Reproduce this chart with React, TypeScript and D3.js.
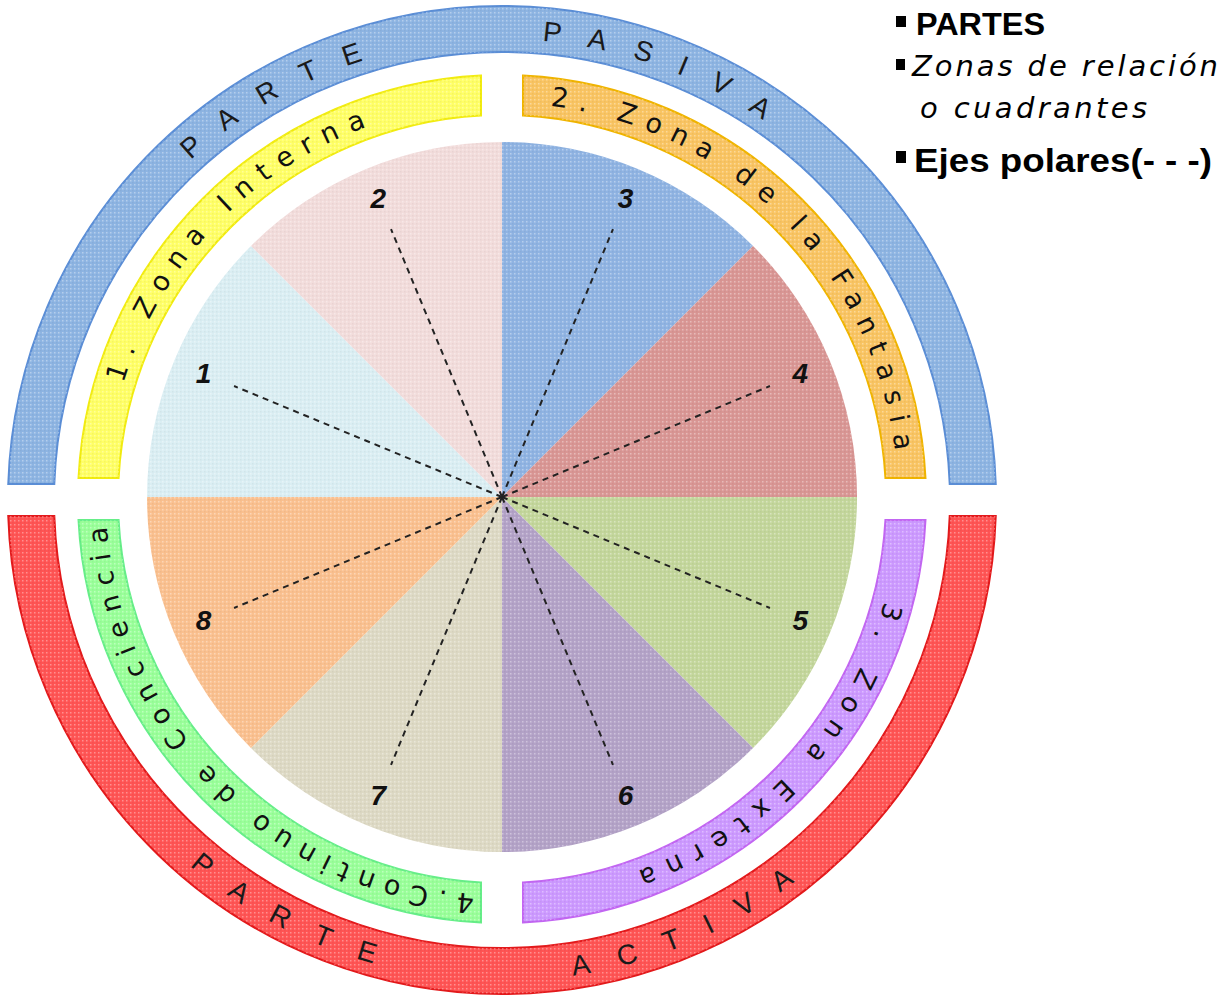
import React from "react";
import * as d3 from "d3";

// ---------- data ----------
const SEGMENT_LABELS = ["3", "4", "5", "6", "7", "8", "1", "2"];
const SEGMENT_VALUES = [1, 1, 1, 1, 1, 1, 1, 1];
const SEGMENT_COLORS = ["#8FB3E2", "#D99694", "#C3D69B", "#B3A2C7", "#DDD9C4", "#FAC08F", "#DAEEF3", "#F2DCDB"];

const ZONE_LABELS = ["1. Zona Interna", "2. Zona de la Fantasia", "3. Zona Externa", "4.Continuo de Conciencia"];
const ZONE_VALUES = [1, 1, 1, 1];
const ZONE_FILLS = ["#FFFF66", "#F9C462", "#CC99FF", "#99FF99"];
const ZONE_STROKES = ["#F2EC10", "#F0B400", "#C266F2", "#66EE88"];

const PART_WORDS = ["PARTE", "PASIVA", "ACTIVA"];
const PART_VALUES = [1, 1];
const PART_FILLS = ["#8DB4E2", "#FF5454"];
const PART_STROKES = ["#5B8ED6", "#E3191B"];

const LEGEND_ITEMS = ["PARTES", "Zonas de relación", "o cuadrantes", "Ejes polares(- - -)"];

// ---------- layout ----------
const W = 1218;
const H = 996;
const deg = Math.PI / 180;

const PIE_C = { x: 502, y: 497 };
const PIE_R = 355;
const INNER_C = { x: 502, y: 499 };
const INNER_R0 = 384;
const INNER_R1 = 424;
const OUTER_C = { x: 502, y: 500 };
const OUTER_R0 = 448;
const OUTER_R1 = 494;

// text spans (degrees, clockwise from top), [start, end]
const ZONE_TEXT_SPANS: [number, number][] = [
  [-73, -20],
  [7, 83],
  [105, 160],
  [184, 266],
];
const PART_TEXT_SPANS: [number, number][] = [
  [-42.5, -17.5], // PARTE (top)
  [5, 34.5], // PASIVA
  [220.5, 195.5], // PARTE (bottom, ccw)
  [171.5, 142.5], // ACTIVA (ccw)
];

function arcD(r: number, a0d: number, a1d: number) {
  const a0 = a0d * deg;
  const a1 = a1d * deg;
  const sweep = a1 > a0 ? 1 : 0;
  const large = Math.abs(a1 - a0) > Math.PI ? 1 : 0;
  const x0 = r * Math.sin(a0), y0 = -r * Math.cos(a0);
  const x1 = r * Math.sin(a1), y1 = -r * Math.cos(a1);
  return `M${x0},${y0} A${r},${r} 0 ${large} ${sweep} ${x1},${y1}`;
}

export default function App() {
  const pie = d3.pie<number>().sort(null).value((d) => d).startAngle(0).endAngle(2 * Math.PI);
  const segArcs = pie(SEGMENT_VALUES);
  const sliceArc = d3.arc<d3.PieArcDatum<number>>().innerRadius(0).outerRadius(PIE_R);

  const zoneArcs = pie.startAngle(-Math.PI / 2).endAngle(1.5 * Math.PI)(ZONE_VALUES);
  const zoneGap = 21;
  const zoneArc = d3
    .arc<d3.PieArcDatum<number>>()
    .innerRadius(INNER_R0)
    .outerRadius(INNER_R1)
    .padRadius(INNER_R0)
    .padAngle(2 * Math.asin(zoneGap / INNER_R0));

  const partArcs = d3.pie<number>().sort(null).value((d) => d).startAngle(-Math.PI / 2).endAngle(1.5 * Math.PI)(PART_VALUES);
  const partGap = 16;
  const partArc = d3
    .arc<d3.PieArcDatum<number>>()
    .innerRadius(OUTER_R0)
    .outerRadius(OUTER_R1)
    .padRadius(OUTER_R0)
    .padAngle(2 * Math.asin(partGap / OUTER_R0));

  const zoneBaseR = 396;
  const partTexts = [PART_WORDS[0], PART_WORDS[1], PART_WORDS[0], PART_WORDS[2]];
  const partBaseR = [461, 461, 481, 481];

  const labelR = 323;
  const axisR = 290;

  const textFont = "'DejaVu Sans', sans-serif";

  return (
    <div style={{ position: "absolute", left: 0, top: 0, width: W, height: H, background: "#fff" }}>
      <svg width={W} height={H} viewBox={`0 0 ${W} ${H}`} style={{ display: "block" }}>
        <defs>
          <pattern id="dots" width="4" height="4" patternUnits="userSpaceOnUse">
            <rect x="0" y="0" width="1.5" height="1.5" fill="#ffffff" opacity="0.35" />
            <rect x="2" y="2" width="1.5" height="1.5" fill="#000000" opacity="0.04" />
          </pattern>
          {ZONE_TEXT_SPANS.map((s, i) => (
            <path key={"zp" + i} id={"zp" + i} d={arcD(zoneBaseR, s[0], s[1])} />
          ))}
          {PART_TEXT_SPANS.map((s, i) => (
            <path key={"pp" + i} id={"pp" + i} d={arcD(partBaseR[i], s[0], s[1])} />
          ))}
        </defs>

        {/* outer ring: PARTE PASIVA / PARTE ACTIVA */}
        <g transform={`translate(${OUTER_C.x},${OUTER_C.y})`}>
          {partArcs.map((a, i) => (
            <g key={"part" + i}>
              <path d={partArc(a) || ""} fill={PART_FILLS[i]} stroke={PART_STROKES[i]} strokeWidth={2} />
              <path d={partArc(a) || ""} fill="url(#dots)" />
            </g>
          ))}
          {PART_TEXT_SPANS.map((s, i) => {
            const len = Math.abs(s[1] - s[0]) * deg * partBaseR[i];
            return (
              <text key={"pt" + i} fontFamily="'Liberation Sans', Arial, sans-serif" fontSize={28} fill="#1a1a1a">
                <textPath href={"#pp" + i} startOffset="0" textLength={len} lengthAdjust="spacing">
                  {partTexts[i]}
                </textPath>
              </text>
            );
          })}
        </g>

        {/* inner ring: zones */}
        <g transform={`translate(${INNER_C.x},${INNER_C.y})`}>
          {zoneArcs.map((a, i) => (
            <g key={"zone" + i}>
              <path d={zoneArc(a) || ""} fill={ZONE_FILLS[i]} stroke={ZONE_STROKES[i]} strokeWidth={2} />
              <path d={zoneArc(a) || ""} fill="url(#dots)" />
            </g>
          ))}
          {ZONE_TEXT_SPANS.map((s, i) => {
            const len = Math.abs(s[1] - s[0]) * deg * zoneBaseR;
            return (
              <text key={"zt" + i} fontFamily={textFont} fontSize={27} fill="#111">
                <textPath href={"#zp" + i} startOffset="0" textLength={len} lengthAdjust="spacing">
                  {ZONE_LABELS[i]}
                </textPath>
              </text>
            );
          })}
        </g>

        {/* pie of 8 segments */}
        <g transform={`translate(${PIE_C.x},${PIE_C.y})`}>
          {segArcs.map((a, i) => (
            <g key={"seg" + i}>
              <path d={sliceArc(a) || ""} fill={SEGMENT_COLORS[i]} />
              <path d={sliceArc(a) || ""} fill="url(#dots)" />
            </g>
          ))}
          {segArcs.map((a, i) => {
            const m = (a.startAngle + a.endAngle) / 2;
            return (
              <line
                key={"ax" + i}
                x1={0}
                y1={0}
                x2={axisR * Math.sin(m)}
                y2={-axisR * Math.cos(m)}
                stroke="#222"
                strokeWidth={2}
                strokeDasharray="6,5"
              />
            );
          })}
          {segArcs.map((a, i) => {
            const m = (a.startAngle + a.endAngle) / 2;
            return (
              <text
                key={"lb" + i}
                x={labelR * Math.sin(m)}
                y={-labelR * Math.cos(m)}
                textAnchor="middle"
                dominantBaseline="central"
                fontFamily="'Liberation Sans', Arial, sans-serif"
                fontStyle="italic"
                fontWeight="bold"
                fontSize={28}
                fill="#111"
              >
                {SEGMENT_LABELS[i]}
              </text>
            );
          })}
        </g>

        {/* legend */}
        <g>
          <rect x={896} y={16} width={10} height={11} fill="#000" />
          <text x={916} y={35} fontFamily="'Liberation Sans', Arial, sans-serif" fontWeight="bold" fontSize={31} textLength={129} lengthAdjust="spacingAndGlyphs" fill="#000">
            {LEGEND_ITEMS[0]}
          </text>
          <rect x={896} y={59} width={9} height={11} fill="#000" />
          <text x={912} y={76} fontFamily={textFont} fontStyle="italic" fontSize={29} textLength={306} lengthAdjust="spacing" fill="#000">
            {LEGEND_ITEMS[1]}
          </text>
          <text x={920} y={118} fontFamily={textFont} fontStyle="italic" fontSize={29} textLength={227} lengthAdjust="spacing" fill="#000">
            {LEGEND_ITEMS[2]}
          </text>
          <rect x={896} y={151} width={10} height={12} fill="#000" />
          <text x={914} y={172} fontFamily="'Liberation Sans', Arial, sans-serif" fontWeight="bold" fontSize={33} textLength={298} lengthAdjust="spacingAndGlyphs" fill="#000">
            {LEGEND_ITEMS[3]}
          </text>
        </g>
      </svg>
    </div>
  );
}
